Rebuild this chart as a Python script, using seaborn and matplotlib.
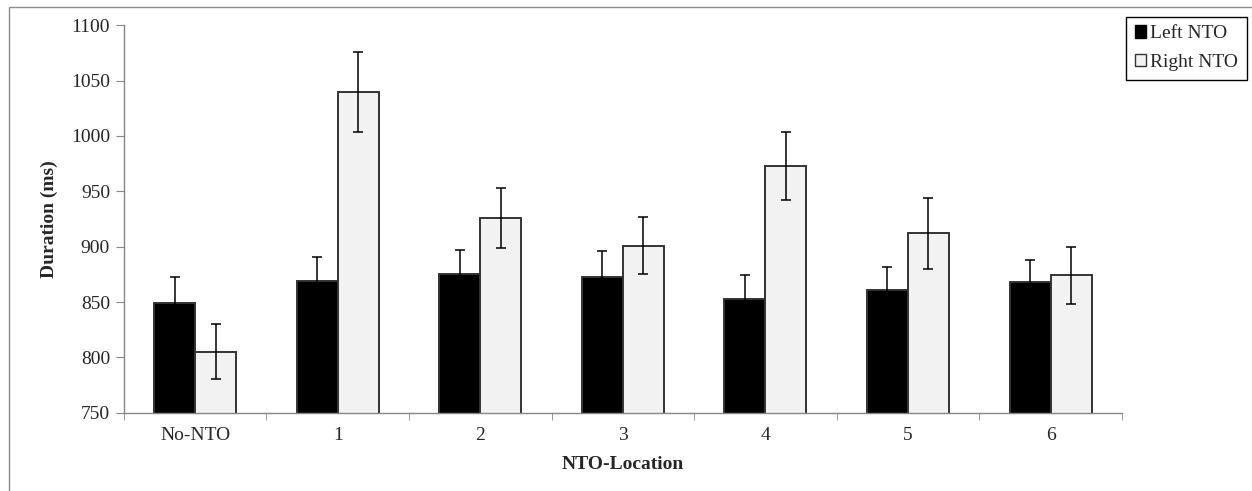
import numpy as np
import pandas as pd
import seaborn as sns
import matplotlib.pyplot as plt
from matplotlib.patches import Rectangle, Patch

locations = ["No-NTO", "1", "2", "3", "4", "5", "6"]
left_mean = [849, 869, 875, 873, 853, 861, 868]
left_err = [24, 22, 22, 23, 21, 21, 20]
right_mean = [805, 1040, 926, 901, 973, 912, 874]
right_err = [25, 36, 27, 26, 31, 32, 26]
series = ["Left NTO", "Right NTO"]

df = pd.DataFrame({
    "loc": locations * 2,
    "dur": left_mean + right_mean,
    "side": [series[0]] * 7 + [series[1]] * 7,
})

sns.set_style("white")
plt.rcParams["font.family"] = ["Liberation Serif", "DejaVu Serif"]

fig = plt.figure(figsize=(12.52, 4.91), dpi=100)
ax = fig.add_axes([0.099, 0.1595, 0.797, 0.789])

colors = {"Left NTO": "black", "Right NTO": "#f2f2f2"}
sns.barplot(data=df, x="loc", y="dur", hue="side", order=locations,
            hue_order=series, palette=colors, saturation=1, width=0.575,
            errorbar=None, edgecolor="#333333", linewidth=1.4, ax=ax,
            legend=False)

# error bars at bar centres
for cont, errs in zip(ax.containers, [left_err, right_err]):
    xs = [b.get_x() + b.get_width() / 2 for b in cont]
    ys = [b.get_height() for b in cont]
    ax.errorbar(xs, ys, yerr=errs, fmt="none", ecolor="black",
                elinewidth=1.1, capsize=3.6, capthick=1.1, zorder=5)

ax.set_ylim(750, 1100)
ax.set_yticks(np.arange(750, 1101, 50))
ax.set_xlim(-0.5, 6.5)
ax.set_xticks(np.arange(-0.5, 7, 1), minor=True)
ax.tick_params(axis="x", which="major", length=0, labelsize=14, pad=10)
ax.tick_params(axis="x", which="minor", length=5, color="#868686",
               direction="out", bottom=True)
ax.tick_params(axis="y", length=6, color="#868686", direction="out",
               left=True, labelsize=14, pad=4)
for side in ["top", "right"]:
    ax.spines[side].set_visible(False)
for side in ["left", "bottom"]:
    ax.spines[side].set_color("#868686")
    ax.spines[side].set_linewidth(1.0)

ax.set_xlabel("NTO-Location", fontsize=14, fontweight="bold", labelpad=9)
ax.set_ylabel("Duration (ms)", fontsize=14, fontweight="bold", labelpad=9)

handles = [Patch(facecolor="black", edgecolor="black"),
           Patch(facecolor="#f2f2f2", edgecolor="#333333")]
leg = fig.legend(handles, series, loc="upper right",
                 bbox_to_anchor=(0.996, 0.966), fontsize=14,
                 handlelength=0.6, handleheight=0.6, handletextpad=0.2,
                 fancybox=False, framealpha=1, borderpad=0.45,
                 labelspacing=0.6, borderaxespad=0)
leg.get_frame().set_edgecolor("black")
leg.get_frame().set_linewidth(1.0)

# outer chart border
fig.patches.append(Rectangle((9 / 1252, -0.2), 1.2, 1.2 - 7 / 491,
                             transform=fig.transFigure, fill=False,
                             edgecolor="#8c8c8c", linewidth=1.0))

fig.savefig("out.png", dpi=100)
